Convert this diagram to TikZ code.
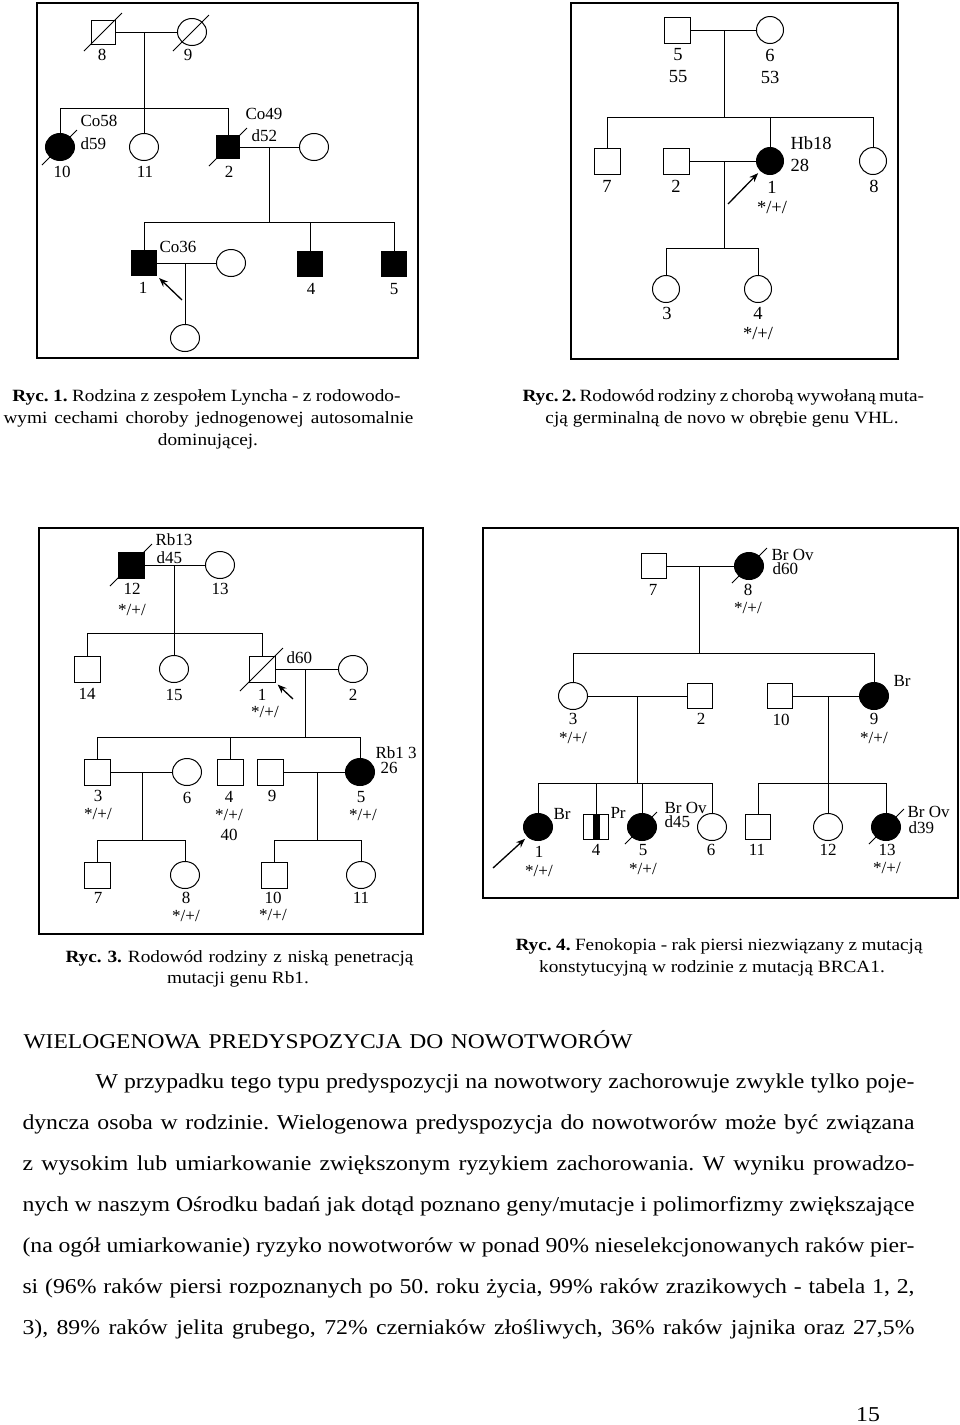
\documentclass[tikz,border=0pt]{standalone}
\usepackage{fontspec}
\setmainfont{Liberation Serif}[FakeStretch=1.12]
\newfontfamily\pedfam{Liberation Serif}
\usetikzlibrary{shapes.geometric,arrows.meta}
\newcommand\pedA{\pedfam\fontsize{17}{17}\selectfont}
\newcommand\pedB{\pedfam\fontsize{18.5}{18.5}\selectfont}
\newcommand\capsz{\fontsize{17.2}{20}\selectfont\frenchspacing}
\newcommand\bodysz{\fontsize{21.2}{25}\selectfont\frenchspacing}
\newcommand\dslash[3]{\draw[dline] ([shift={(-#2,#2)}]#1.center) -- ([shift={(#3,-#3)}]#1.center);}
\tikzset{
  male/.style={draw, rectangle, fill=white, minimum size=#1, inner sep=0pt},
  male/.default=25pt,
  female/.style={draw, ellipse, fill=white, minimum width=29pt, minimum height=27pt, inner sep=0pt},
  femaleB/.style={draw, ellipse, fill=white, minimum width=27pt, minimum height=27pt, inner sep=0pt},
  aff/.style={fill=black},
  lab/.style={inner sep=0pt, font=\pedA},
  labB/.style={inner sep=0pt, font=\pedB},
  dline/.style={line width=0.9pt},
  frame/.style={draw, line width=1.8pt},
  proband/.style={-{Stealth[length=9pt,width=7pt]}, line width=1.3pt, shorten >=3pt},
  txt/.style={inner sep=0pt, anchor=base west, font=\bodysz},
  capt/.style={inner sep=0pt, anchor=base west, font=\capsz},
  captc/.style={inner sep=0pt, anchor=base, font=\capsz},
}
\begin{document}
\begin{tikzpicture}[x=1pt,y=-1pt,line width=1pt]
\useasboundingbox (0,0) rectangle (960,1425);
\fill[white] (0,0) rectangle (960,1425);

%%%%%%%%%%%%%%%% Figure 1
\draw[frame] (37,3) rectangle (418,358);
\node[male=24pt] (f1n8) at (103,32) {};
\node[female] (f1n9) at (192,32) {};
\dslash{f1n8}{19}{19}
\dslash{f1n9}{19}{17}
\node[lab] (f1l8) at (102,55) {8};
\node[lab] (f1l9) at (188,55) {9};
\draw (f1n8) -- (f1n9);
\coordinate (f1m1) at (144,32);
\coordinate (f1s1) at (144,108);
\node[female,aff] (f1n10) at (60,147) {};
\node[female] (f1n11) at (144,147) {};
\node[male=23pt,aff] (f1n2) at (228,147) {};
\node[female] (f1sp2) at (314,147) {};
\dslash{f1n10}{18}{17}
\dslash{f1n2}{19}{19}
\draw (f1m1) -- (f1s1);
\draw (f1n10 |- f1s1) -- (f1n2 |- f1s1);
\draw (f1n10) -- (f1n10 |- f1s1);
\draw (f1n11) -- (f1s1);
\draw (f1n2) -- (f1n2 |- f1s1);
\node[lab,anchor=west] (f1lco58) at (80,121) {Co58};
\node[lab,anchor=west] (f1ld59) at (80,144) {d59};
\node[lab] (f1l10) at (62,172) {10};
\node[lab] (f1l11) at (145,172) {11};
\node[lab,anchor=west] (f1lco49) at (245,114) {Co49};
\node[lab,anchor=west] (f1ld52) at (251,136) {d52};
\node[lab] (f1l2) at (229,172) {2};
\draw (f1n2) -- (f1sp2);
\coordinate (f1m2) at (269,147);
\coordinate (f1s2) at (269,222);
\draw (f1m2) -- (f1s2);
\node[male,aff] (f1n1) at (144,263) {};
\node[female] (f1sp1) at (231,263) {};
\node[male,aff] (f1n4) at (310,264) {};
\node[male,aff] (f1n5) at (394,264) {};
\draw (f1n1 |- f1s2) -- (f1n5 |- f1s2);
\draw (f1n1) -- (f1n1 |- f1s2);
\draw (f1n4) -- (f1n4 |- f1s2);
\draw (f1n5) -- (f1n5 |- f1s2);
\node[lab,anchor=west] (f1lco36) at (159,247) {Co36};
\node[lab] (f1l1) at (143,288) {1};
\node[lab] (f1l4) at (311,289) {4};
\node[lab] (f1l5) at (394,289) {5};
\draw (f1n1) -- (f1sp1);
\coordinate (f1m3) at (185,263);
\node[female] (f1c) at (185,338) {};
\draw (f1m3) -- (f1c);
\coordinate (f1a) at (182,300);
\draw[proband] (f1a) -- (f1n1.south east);

%%%%%%%%%%%%%%%% Figure 2
\draw[frame] (571,3) rectangle (898,359);
\node[male=26pt] (f2n5) at (677,30) {};
\node[femaleB] (f2n6) at (770,30) {};
\draw (f2n5) -- (f2n6);
\node[labB] (f2l5) at (678,55) {5};
\node[labB] (f2l55) at (678,77) {55};
\node[labB] (f2l6) at (770,55) {6};
\node[labB] (f2l53) at (770,77) {53};
\coordinate (f2m1) at (724,30);
\coordinate (f2s1) at (724,117);
\draw (f2m1) -- (f2s1);
\node[male=26pt] (f2n7) at (607,161) {};
\node[male=26pt] (f2n2) at (676,161) {};
\node[femaleB,aff] (f2n1) at (770,161) {};
\node[femaleB] (f2n8) at (873,161) {};
\draw (f2n7 |- f2s1) -- (f2n8 |- f2s1);
\draw (f2n7) -- (f2n7 |- f2s1);
\draw (f2n1) -- (f2n1 |- f2s1);
\draw (f2n8) -- (f2n8 |- f2s1);
\draw (f2n2) -- (f2n1);
\node[labB] (f2l7) at (607,186) {7};
\node[labB] (f2l2) at (676,186) {2};
\node[labB] (f2l1) at (772,187) {1};
\node[labB] (f2lg1) at (772,207) {*/+/};
\node[labB,anchor=west] (f2lhb) at (790,143) {Hb18};
\node[labB,anchor=west] (f2l28) at (790,165) {28};
\node[labB] (f2l8) at (874,186) {8};
\coordinate (f2m2) at (724,161);
\coordinate (f2s2) at (724,248);
\draw (f2m2) -- (f2s2);
\node[femaleB] (f2n3) at (666,289) {};
\node[femaleB] (f2n4) at (758,289) {};
\draw (f2n3 |- f2s2) -- (f2n4 |- f2s2);
\draw (f2n3) -- (f2n3 |- f2s2);
\draw (f2n4) -- (f2n4 |- f2s2);
\node[labB] (f2l3) at (667,313) {3};
\node[labB] (f2l4) at (758,313) {4};
\node[labB] (f2lg4) at (758,333) {*/+/};
\coordinate (f2a) at (728,204);
\draw[proband] (f2a) -- (f2n1);

%%%%%%%%%%%%%%%% Figure 3
\draw[frame] (39,528) rectangle (423,934);
\node[male=26pt,aff] (f3n12) at (131,565) {};
\node[female] (f3n13) at (220,565) {};
\dslash{f3n12}{21}{21}
\draw (f3n12) -- (f3n13);
\node[lab,anchor=west] (f3lrb) at (155,540) {Rb13};
\node[lab,anchor=west] (f3ld45) at (156,558) {d45};
\node[lab] (f3l12) at (132,589) {12};
\node[lab] (f3lg12) at (132,610) {*/+/};
\node[lab] (f3l13) at (220,589) {13};
\coordinate (f3m1) at (174,565);
\coordinate (f3s1) at (174,633);
\draw (f3m1) -- (f3s1);
\node[male=26pt] (f3n14) at (87,669) {};
\node[female] (f3n15) at (174,669) {};
\node[male=26pt] (f3n1) at (262,669) {};
\node[female] (f3n2) at (353,669) {};
\dslash{f3n1}{22}{21}
\draw (f3n14 |- f3s1) -- (f3n1 |- f3s1);
\draw (f3n14) -- (f3n14 |- f3s1);
\draw (f3n15) -- (f3s1);
\draw (f3n1) -- (f3n1 |- f3s1);
\draw (f3n1) -- (f3n2);
\node[lab] (f3l14) at (87,694) {14};
\node[lab] (f3l15) at (174,695) {15};
\node[lab] (f3l1) at (262,695) {1};
\node[lab] (f3lg1) at (265,712) {*/+/};
\node[lab,anchor=west] (f3ld60) at (286,658) {d60};
\node[lab] (f3l2) at (353,695) {2};
\coordinate (f3a) at (293,699);
\draw[proband] (f3a) -- (f3n1.south east);
\coordinate (f3m2) at (305,669);
\coordinate (f3s2) at (305,737);
\draw (f3m2) -- (f3s2);
\node[male=26pt] (f3n3) at (97,772) {};
\node[female] (f3n6) at (187,772) {};
\node[male=26pt] (f3n4) at (230,772) {};
\node[male=26pt] (f3n9) at (270,772) {};
\node[female,aff] (f3n5) at (360,772) {};
\draw (f3n3 |- f3s2) -- (f3n5 |- f3s2);
\draw (f3n3) -- (f3n3 |- f3s2);
\draw (f3n4) -- (f3n4 |- f3s2);
\draw (f3n5) -- (f3n5 |- f3s2);
\draw (f3n3) -- (f3n6);
\draw (f3n9) -- (f3n5);
\node[lab] (f3l3) at (98,796) {3};
\node[lab] (f3lg3) at (98,814) {*/+/};
\node[lab] (f3l6) at (187,798) {6};
\node[lab] (f3l4) at (229,797) {4};
\node[lab] (f3lg4) at (229,815) {*/+/};
\node[lab] (f3l40) at (229,835) {40};
\node[lab] (f3l9) at (272,796) {9};
\node[lab] (f3l5) at (361,797) {5};
\node[lab] (f3lg5) at (363,815) {*/+/};
\node[lab,anchor=west] (f3lrb2) at (375,753) {Rb1 3};
\node[lab,anchor=west] (f3l26) at (380,768) {26};
\coordinate (f3m3) at (142,772);
\coordinate (f3s3) at (142,840);
\draw (f3m3) -- (f3s3);
\coordinate (f3m4) at (317,772);
\coordinate (f3s4) at (317,840);
\draw (f3m4) -- (f3s4);
\node[male=26pt] (f3n7) at (97,875) {};
\node[female] (f3n8) at (185,875) {};
\node[male=26pt] (f3n10) at (274,875) {};
\node[female] (f3n11) at (361,875) {};
\draw (f3n7 |- f3s3) -- (f3n8 |- f3s3);
\draw (f3n7) -- (f3n7 |- f3s3);
\draw (f3n8) -- (f3n8 |- f3s3);
\draw (f3n10 |- f3s4) -- (f3n11 |- f3s4);
\draw (f3n10) -- (f3n10 |- f3s4);
\draw (f3n11) -- (f3n11 |- f3s4);
\node[lab] (f3l7) at (98,898) {7};
\node[lab] (f3l8) at (186,898) {8};
\node[lab] (f3lg8) at (186,916) {*/+/};
\node[lab] (f3l10) at (273,898) {10};
\node[lab] (f3lg10) at (273,915) {*/+/};
\node[lab] (f3l11) at (361,898) {11};

%%%%%%%%%%%%%%%% Figure 4
\draw[frame] (483,528) rectangle (958,898);
\node[male] (f4n7) at (654,566) {};
\node[female,aff] (f4n8) at (749,566) {};
\dslash{f4n8}{17}{18}
\draw (f4n7) -- (f4n8);
\node[lab] (f4l7) at (653,590) {7};
\node[lab,anchor=west] (f4lbo8) at (771,555) {Br Ov};
\node[lab,anchor=west] (f4ld60) at (772,569) {d60};
\node[lab] (f4l8) at (748,590) {8};
\node[lab] (f4lg8) at (748,608) {*/+/};
\coordinate (f4m1) at (699,566);
\coordinate (f4s1) at (699,653);
\draw (f4m1) -- (f4s1);
\node[female] (f4n3) at (573,696) {};
\node[male] (f4n2) at (700,696) {};
\node[male] (f4n10) at (780,696) {};
\node[female,aff] (f4n9) at (874,696) {};
\draw (f4n3 |- f4s1) -- (f4n9 |- f4s1);
\draw (f4n3) -- (f4n3 |- f4s1);
\draw (f4n9) -- (f4n9 |- f4s1);
\draw (f4n3) -- (f4n2);
\draw (f4n10) -- (f4n9);
\node[lab] (f4l3) at (573,719) {3};
\node[lab] (f4lg3) at (573,738) {*/+/};
\node[lab] (f4l2) at (701,719) {2};
\node[lab] (f4l10) at (781,720) {10};
\node[lab] (f4l9) at (874,719) {9};
\node[lab] (f4lg9) at (874,738) {*/+/};
\node[lab,anchor=west] (f4lbr9) at (893,681) {Br};
\coordinate (f4m2) at (637,696);
\coordinate (f4s2) at (637,783);
\draw (f4m2) -- (f4s2);
\coordinate (f4m3) at (828,696);
\coordinate (f4s3) at (828,783);
\draw (f4m3) -- (f4s3);
\node[female,aff] (f4n1) at (538,827) {};
\node[male] (f4n4) at (596,827) {};
\fill ([xshift=-3.5pt]f4n4.north) rectangle ([xshift=3.5pt]f4n4.south);
\node[female,aff] (f4n5) at (642,827) {};
\node[female] (f4n6) at (712,827) {};
\node[male] (f4n11) at (758,827) {};
\node[female] (f4n12) at (828,827) {};
\node[female,aff] (f4n13) at (886,827) {};
\dslash{f4n5}{17}{15}
\dslash{f4n13}{17}{18}
\draw (f4n1 |- f4s2) -- (f4n6 |- f4s2);
\draw (f4n1) -- (f4n1 |- f4s2);
\draw (f4n4) -- (f4n4 |- f4s2);
\draw (f4n5) -- (f4n5 |- f4s2);
\draw (f4n6) -- (f4n6 |- f4s2);
\draw (f4n11 |- f4s3) -- (f4n13 |- f4s3);
\draw (f4n11) -- (f4n11 |- f4s3);
\draw (f4n12) -- (f4s3);
\draw (f4n13) -- (f4n13 |- f4s3);
\node[lab,anchor=west] (f4lbr1) at (553,814) {Br};
\node[lab] (f4l1) at (539,852) {1};
\node[lab] (f4lg1) at (539,871) {*/+/};
\node[lab,anchor=west] (f4lpr) at (610,813) {Pr};
\node[lab] (f4l4) at (596,850) {4};
\node[lab,anchor=west] (f4lbo5) at (664,808) {Br Ov};
\node[lab,anchor=west] (f4ld45) at (664,822) {d45};
\node[lab] (f4l5) at (643,850) {5};
\node[lab] (f4lg5) at (643,869) {*/+/};
\node[lab] (f4l6) at (711,850) {6};
\node[lab] (f4l11) at (757,850) {11};
\node[lab] (f4l12) at (828,850) {12};
\node[lab,anchor=west] (f4lbo13) at (907,812) {Br Ov};
\node[lab,anchor=west] (f4ld39) at (908,828) {d39};
\node[lab] (f4l13) at (887,850) {13};
\node[lab] (f4lg13) at (887,868) {*/+/};
\coordinate (f4a) at (493,868);
\draw[proband] (f4a) -- (f4n1);

%%%%%%%%%%%%%%%% Captions
\node[capt] (c1a) at (12,401) {\makebox[388pt][s]{\textbf{Ryc. 1.} Rodzina z zespołem Lyncha - z rodowodo-}};
\node[capt] (c1b) at (3,423) {\makebox[410pt][s]{wymi cechami choroby jednogenowej autosomalnie}};
\node[captc] (c1c) at (208,445) {dominującej.};
\node[capt] (c2a) at (522,401) {\makebox[390pt][s]{\textbf{Ryc. 2.} Rodowód rodziny z chorobą wywołaną muta-}};
\node[captc] (c2b) at (722,423) {cją germinalną de novo w obrębie genu VHL.};
\node[capt] (c3a) at (65,962) {\makebox[348pt][s]{\textbf{Ryc. 3.} Rodowód rodziny z niską penetracją}};
\node[captc] (c3b) at (238,983) {mutacji genu Rb1.};
\node[capt] (c4a) at (515,950) {\makebox[407pt][s]{\textbf{Ryc. 4.} Fenokopia - rak piersi niezwiązany z mutacją}};
\node[captc] (c4b) at (712,972) {konstytucyjną w rodzinie z mutacją BRCA1.};

%%%%%%%%%%%%%%%% Text
\node[txt,font=\fontsize{21}{25}\selectfont] (head) at (23,1048) {\makebox[609pt][s]{WIELOGENOWA PREDYSPOZYCJA DO NOWOTWORÓW}};
\node[txt] (p1) at (95,1088) {\makebox[819pt][s]{W przypadku tego typu predyspozycji na nowotwory zachorowuje zwykle tylko poje-}};
\node[txt] (p2) at (22,1129) {\makebox[892pt][s]{dyncza osoba w rodzinie. Wielogenowa predyspozycja do nowotworów może być związana}};
\node[txt] (p3) at (22,1170) {\makebox[892pt][s]{z wysokim lub umiarkowanie zwiększonym ryzykiem zachorowania. W wyniku prowadzo-}};
\node[txt] (p4) at (22,1211) {\makebox[892pt][s]{nych w naszym Ośrodku badań jak dotąd poznano geny/mutacje i polimorfizmy zwiększające}};
\node[txt] (p5) at (22,1252) {\makebox[892pt][s]{(na ogół umiarkowanie) ryzyko nowotworów w ponad 90\% nieselekcjonowanych raków pier-}};
\node[txt] (p6) at (22,1293) {\makebox[892pt][s]{si (96\% raków piersi rozpoznanych po 50. roku życia, 99\% raków zrazikowych - tabela 1, 2,}};
\node[txt] (p7) at (22,1334) {\makebox[892pt][s]{3), 89\% raków jelita grubego, 72\% czerniaków złośliwych, 36\% raków jajnika oraz 27,5\%}};
\node[inner sep=0pt, anchor=base, font=\bodysz] (pg) at (868,1421) {15};
\end{tikzpicture}
\end{document}
